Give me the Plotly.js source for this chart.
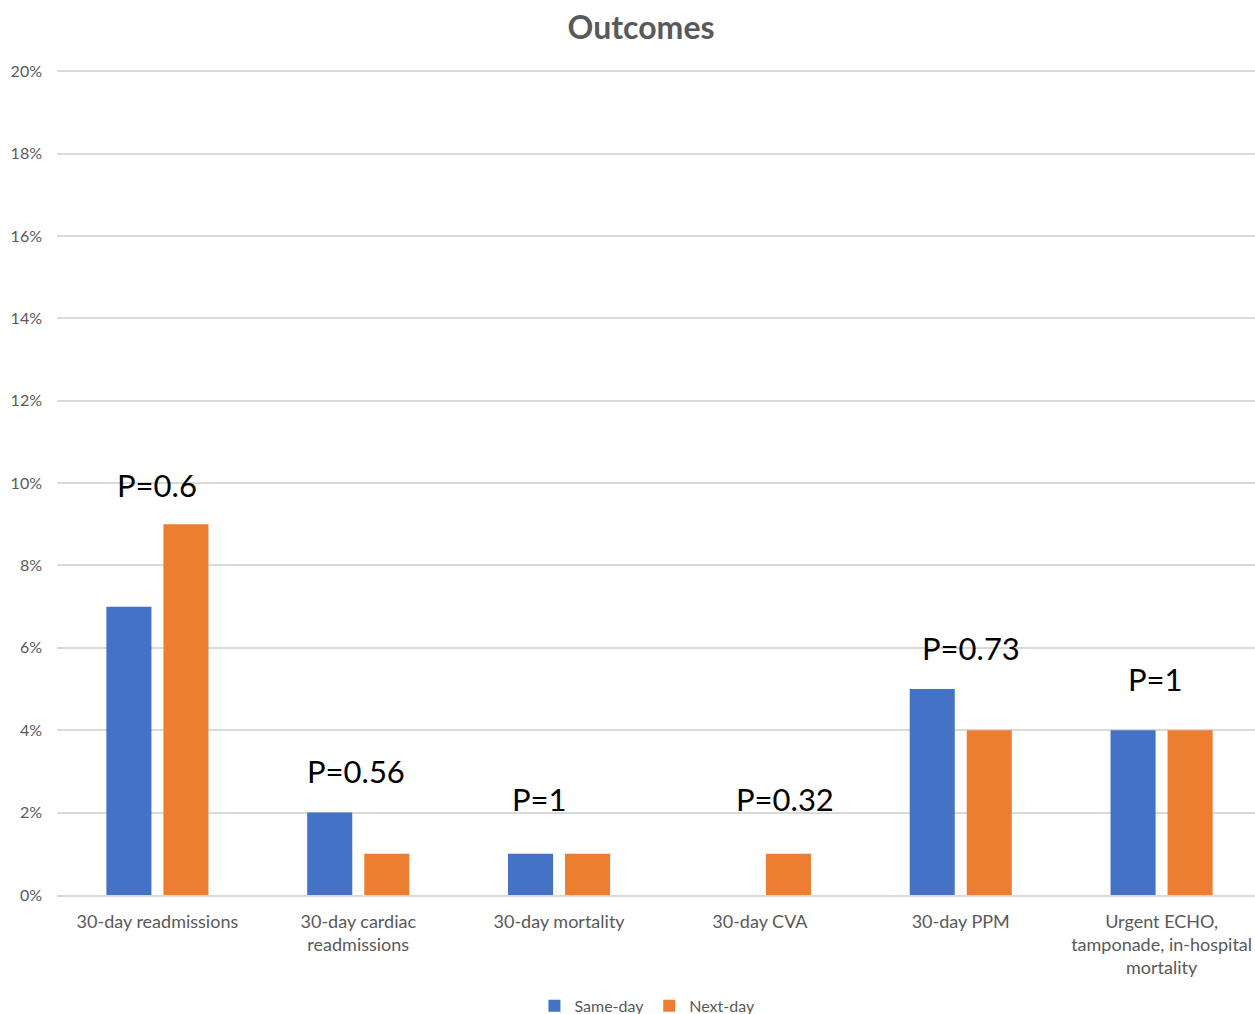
<!DOCTYPE html>
<html><head><meta charset="utf-8">
<script src="https://cdn.plot.ly/plotly-3.0.1.min.js"></script>
<style>html,body{margin:0;padding:0;overflow:hidden;background:#fff}</style>
</head><body>
<div id="chart"></div>
<script>
var categories = ["30-day readmissions", "30-day cardiac<br>readmissions", "30-day mortality", "30-day CVA", "30-day PPM", "Urgent ECHO,<br>tamponade, in-hospital<br>mortality"];
var sameDay = [7, 2, 1, 0, 5, 4];
var nextDay = [9, 1, 1, 1, 4, 4];
var pLabels = ["P=0.6", "P=0.56", "P=1", "P=0.32", "P=0.73", "P=1"];
var pLabelY = [9.95, 3.0, 2.33, 2.33, 5.99, 5.24];
var pLabelShift = [0, -2, -20, 25, 10, -6];
var yTicks = [0, 2, 4, 6, 8, 10, 12, 14, 16, 18, 20];
var yTickText = yTicks.map(function(v){return v + "%";});

var FONT = "Lato, 'Open Sans', sans-serif";
var annotations = categories.map(function(c, i){
  return {x: c, y: pLabelY[i], xref: "x", yref: "y", text: pLabels[i], showarrow: false,
    xshift: pLabelShift[i], font: {family: FONT, size: 31, color: "#000"}};
});

var data = [
  {type: "bar", name: "Same-day", x: categories, y: sameDay, marker: {color: "#4472C4"}},
  {type: "bar", name: "Next-day", x: categories, y: nextDay, marker: {color: "#ED7D31"}}
];
var layout = {
  width: 1262, height: 1014,
  margin: {l: 57, r: 0, t: 70, b: 119},
  paper_bgcolor: "#fff", plot_bgcolor: "#fff",
  title: {text: "<b>Outcomes</b>", x: 0.508, xanchor: "center", y: 0.973, yanchor: "middle",
    font: {family: FONT, size: 32, color: "#595959"}},
  barmode: "group", bargap: 0.432, bargroupgap: 0.21,
  xaxis: {type: "category", tickfont: {family: FONT, size: 18, color: "#595959"}, ticklabelstandoff: 9, automargin: false,
    showline: true, linecolor: "#d9d9d9", linewidth: 2, ticks: "", showgrid: false, fixedrange: true},
  yaxis: {range: [0, 20.03], tickvals: yTicks, ticktext: yTickText, showgrid: true, gridcolor: "#d9d9d9", gridwidth: 2, automargin: false,
    zeroline: false, ticks: "", ticklabelstandoff: 14, tickfont: {family: FONT, size: 16, color: "#595959"}, fixedrange: true},
  legend: {orientation: "h", x: 0.49, xanchor: "center", yref: "container", y: 0.008, yanchor: "middle",
    font: {family: FONT, size: 16, color: "#595959"}, itemwidth: 30},
  annotations: annotations,
  showlegend: true
};
Plotly.newPlot("chart", data, layout, {displayModeBar: false, staticPlot: true});
</script>
</body></html>
